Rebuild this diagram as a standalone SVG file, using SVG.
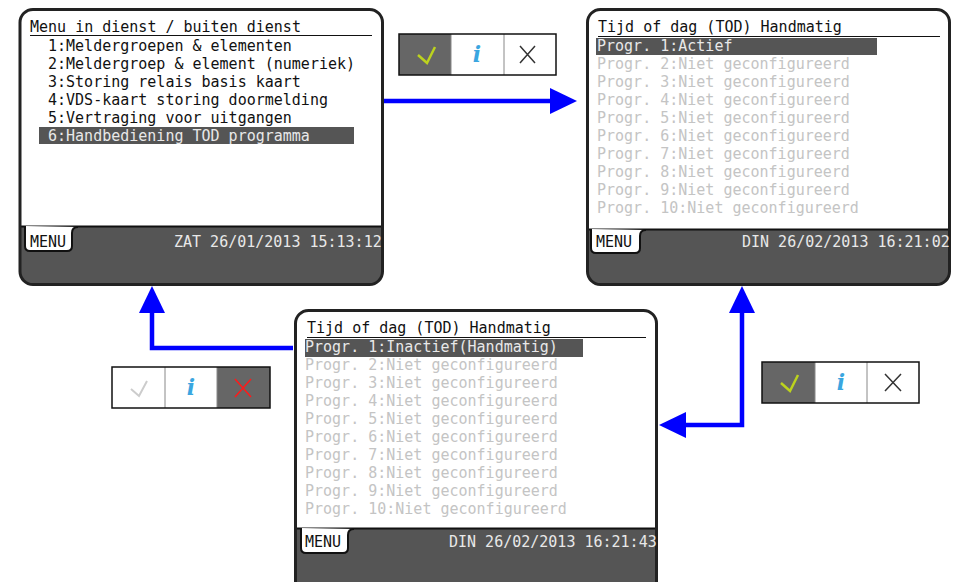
<svg xmlns="http://www.w3.org/2000/svg" width="959" height="582" viewBox="0 0 959 582">
<style>
.t{font-family:"DejaVu Sans Mono","Liberation Mono",monospace;font-size:15px;fill:#111}
.g{fill:#c4c4c4}
.w{fill:#e8e8e8}
.band{fill:#555}
.bl{stroke:#111;stroke-width:2}
.tab{fill:#fff;stroke:#111;stroke-width:2}
.frame{fill:none;stroke:#222;stroke-width:3}
.ul{stroke:#111;stroke-width:1}
.hl{fill:#555}
.conn{fill:none;stroke:#0000ff;stroke-width:4.5}
.cell{stroke:#888;stroke-width:1}
.bbox{fill:none;stroke:#111;stroke-width:1.5}
.info{font-family:"DejaVu Serif","Liberation Serif",serif;font-style:italic;font-weight:bold;font-size:22px;fill:#3aa6e0;text-anchor:middle}
</style>
<defs>
<clipPath id="c1"><rect x="20" y="9.5" width="362.5" height="275" rx="13"/></clipPath>
<clipPath id="c2"><rect x="587.5" y="9.5" width="362" height="275" rx="13"/></clipPath>
<clipPath id="c3"><rect x="295.5" y="310.5" width="361" height="290" rx="13"/></clipPath>
<marker id="ah" markerUnits="userSpaceOnUse" markerWidth="28" markerHeight="27" refX="0" refY="13" orient="auto-start-reverse" viewBox="0 0 28 26">
<path d="M0,0 L27,13 L0,26 z" fill="#0000ff"/>
</marker>
</defs>

<g id="connectors">
<path class="conn" d="M383,101 L550,101" marker-end="url(#ah)"/>
<path class="conn" d="M686,425 L742,425 L742,313" marker-start="url(#ah)" marker-end="url(#ah)"/>
<path class="conn" d="M293,348 L152,348 L152,313" marker-end="url(#ah)"/>
</g>

<g id="screen1">
<rect x="20" y="9.5" width="362.5" height="275" rx="13" fill="#fff"/>
<g clip-path="url(#c1)">
<rect class="band" x="18" y="226" width="370" height="62"/>
<line class="bl" x1="18" y1="226.5" x2="385" y2="226.5"/>
</g>
<path class="tab" d="M25,226 L25,246 Q25,251 30,251 L67,251 Q72,251 72,246 L72,233 Q72,227 78,227"/>
<rect class="frame" x="20" y="9.5" width="362.5" height="275" rx="13"/>
<text class="t" x="30" y="32">Menu in dienst / buiten dienst</text>
<line class="ul" x1="30" y1="35.5" x2="372" y2="35.5"/>
<text class="t" x="48" y="51">1:Meldergroepen &amp; elementen</text>
<text class="t" x="48" y="69">2:Meldergroep &amp; element (numeriek)</text>
<text class="t" x="48" y="87">3:Storing relais basis kaart</text>
<text class="t" x="48" y="105">4:VDS-kaart storing doormelding</text>
<text class="t" x="48" y="123">5:Vertraging voor uitgangen</text>
<rect class="hl" x="39" y="127" width="315" height="17"/>
<text class="t w" x="48" y="141">6:Handbediening TOD programma</text>
<text class="t" x="30" y="247">MENU</text>
<text class="t w" x="174" y="247">ZAT 26/01/2013 15:13:12</text>
</g>

<g id="screen2">
<rect x="587.5" y="9.5" width="362" height="275" rx="13" fill="#fff"/>
<g clip-path="url(#c2)">
<rect class="band" x="585" y="229" width="370" height="60"/>
<line class="bl" x1="585" y1="229.5" x2="952" y2="229.5"/>
</g>
<path class="tab" d="M591,229 L591,248 Q591,253 596,253 L635,253 Q640,253 640,248 L640,236 Q640,230 646,230"/>
<rect class="frame" x="587.5" y="9.5" width="362" height="275" rx="13"/>
<text class="t" x="598" y="32">Tijd of dag (TOD) Handmatig</text>
<line class="ul" x1="598" y1="36.5" x2="940" y2="36.5"/>
<rect class="hl" x="596" y="38" width="281" height="17"/>
<text class="t w" x="597" y="51">Progr. 1:Actief</text>
<text class="t g" x="597" y="69">Progr. 2:Niet geconfigureerd</text>
<text class="t g" x="597" y="87">Progr. 3:Niet geconfigureerd</text>
<text class="t g" x="597" y="105">Progr. 4:Niet geconfigureerd</text>
<text class="t g" x="597" y="123">Progr. 5:Niet geconfigureerd</text>
<text class="t g" x="597" y="141">Progr. 6:Niet geconfigureerd</text>
<text class="t g" x="597" y="159">Progr. 7:Niet geconfigureerd</text>
<text class="t g" x="597" y="177">Progr. 8:Niet geconfigureerd</text>
<text class="t g" x="597" y="195">Progr. 9:Niet geconfigureerd</text>
<text class="t g" x="597" y="213">Progr. 10:Niet geconfigureerd</text>
<text class="t" x="596" y="247">MENU</text>
<text class="t w" x="742" y="247">DIN 26/02/2013 16:21:02</text>
</g>

<g id="screen3">
<rect x="295.5" y="310.5" width="361" height="290" rx="13" fill="#fff"/>
<g clip-path="url(#c3)">
<rect class="band" x="293" y="528" width="370" height="80"/>
<line class="bl" x1="293" y1="528.5" x2="660" y2="528.5"/>
</g>
<path class="tab" d="M301,528 L301,548 Q301,553 306,553 L343,553 Q348,553 348,548 L348,535 Q348,529 354,529"/>
<rect class="frame" x="295.5" y="310.5" width="361" height="290" rx="13"/>
<text class="t" x="307" y="333">Tijd of dag (TOD) Handmatig</text>
<line class="ul" x1="307" y1="337.5" x2="646" y2="337.5"/>
<rect class="hl" x="305" y="339" width="278" height="18"/>
<text class="t w" x="305" y="352">Progr. 1:Inactief(Handmatig)</text>
<text class="t g" x="305" y="370">Progr. 2:Niet geconfigureerd</text>
<text class="t g" x="305" y="388">Progr. 3:Niet geconfigureerd</text>
<text class="t g" x="305" y="406">Progr. 4:Niet geconfigureerd</text>
<text class="t g" x="305" y="424">Progr. 5:Niet geconfigureerd</text>
<text class="t g" x="305" y="442">Progr. 6:Niet geconfigureerd</text>
<text class="t g" x="305" y="460">Progr. 7:Niet geconfigureerd</text>
<text class="t g" x="305" y="478">Progr. 8:Niet geconfigureerd</text>
<text class="t g" x="305" y="496">Progr. 9:Niet geconfigureerd</text>
<text class="t g" x="305" y="514">Progr. 10:Niet geconfigureerd</text>
<text class="t" x="305" y="547">MENU</text>
<text class="t w" x="449" y="547">DIN 26/02/2013 16:21:43</text>
</g>

<g id="buttons1">
<rect x="399" y="34" width="52" height="41" fill="#666"/>
<rect x="451" y="34" width="53" height="41" fill="#fff"/>
<rect x="504" y="34" width="52" height="41" fill="#fff"/>
<line class="cell" x1="451" y1="34" x2="451" y2="75"/>
<line class="cell" x1="504" y1="34" x2="504" y2="75"/>
<rect class="bbox" x="399" y="34" width="157" height="41"/>
<path d="M418,55 L427,63 L435,47" fill="none" stroke="#bcd21e" stroke-width="2.5"/>
<text class="info" x="477" y="62">i</text>
<path d="M520,46 L535,63 M535,46 L520,63" stroke="#333" stroke-width="1.5"/>
</g>

<g id="buttons2">
<rect x="112" y="367" width="53" height="41" fill="#fff"/>
<rect x="165" y="367" width="52" height="41" fill="#fff"/>
<rect x="217" y="367" width="53" height="41" fill="#666"/>
<line class="cell" x1="165" y1="367" x2="165" y2="408"/>
<line class="cell" x1="217" y1="367" x2="217" y2="408"/>
<rect class="bbox" x="112" y="367" width="158" height="41"/>
<path d="M131,389 L139,396 L147,381" fill="none" stroke="#cccccc" stroke-width="2"/>
<text class="info" x="191" y="395">i</text>
<path d="M235,379 L251,397 M251,379 L235,397" stroke="#ff1a1a" stroke-width="1.5"/>
</g>

<g id="buttons3">
<rect x="762" y="362" width="53" height="41" fill="#666"/>
<rect x="815" y="362" width="52" height="41" fill="#fff"/>
<rect x="867" y="362" width="52" height="41" fill="#fff"/>
<line class="cell" x1="815" y1="362" x2="815" y2="403"/>
<line class="cell" x1="867" y1="362" x2="867" y2="403"/>
<rect class="bbox" x="762" y="362" width="157" height="41"/>
<path d="M781,383 L790,391 L798,375" fill="none" stroke="#bcd21e" stroke-width="2.5"/>
<text class="info" x="841" y="390">i</text>
<path d="M885,374 L901,391 M901,374 L885,391" stroke="#333" stroke-width="1.5"/>
</g>
</svg>
